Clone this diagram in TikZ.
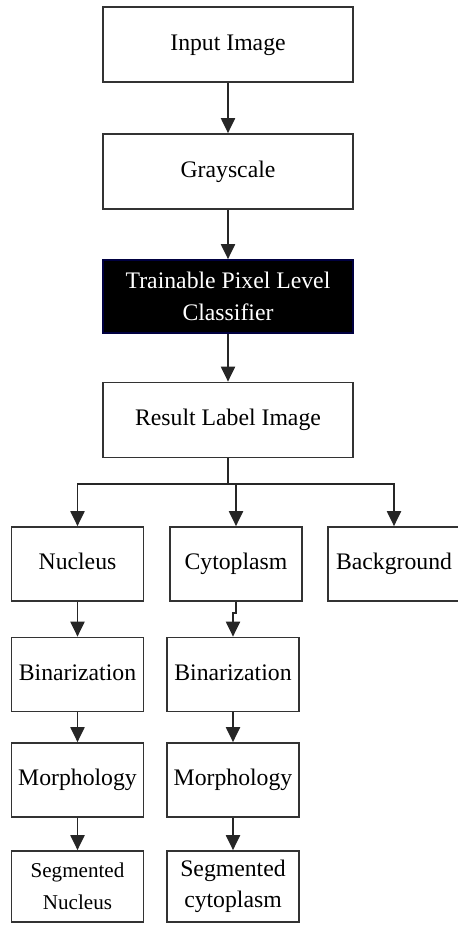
\documentclass[tikz,border=0pt]{standalone}
\usepackage{fontspec}
\setmainfont{Liberation Serif}
\usetikzlibrary{arrows.meta}

\begin{document}
\begin{tikzpicture}[x=0.02cm, y=-0.02cm,
    box/.style={draw=black!80, line width=1pt, rectangle, align=center, inner sep=2pt, font=\fontsize{13.5}{18}\selectfont},
    wide/.style={box, minimum width=5cm, minimum height=1.5cm},
    narrow/.style={box, minimum width=2.64cm, minimum height=1.48cm},
    oneline/.style={text height=9.5pt, text depth=3pt},
    arr/.style={-{Triangle[length=8.5pt,width=8pt]}, line width=1pt, draw=black!85}]
    \useasboundingbox (0,0) rectangle (457,925);

    \node[wide, oneline] (input) at (228,44.5) {Input Image};
    \node[wide, oneline] (gray) at (228,171.5) {Grayscale};
    \node[wide, fill=black, text=white, draw=blue!25!black, minimum height=1.46cm] (classifier) at (228,296.5) {Trainable Pixel Level\\Classifier};
    \node[wide, oneline] (result) at (228,420) {Result Label Image};

    \node[narrow, oneline] (nucleus) at (77.5,564) {Nucleus};
    \node[narrow, oneline] (cytoplasm) at (236,564) {Cytoplasm};
    \node[narrow, oneline] (background) at (394,564) {Background};

    \node[narrow, oneline] (nucbin) at (77.5,674.5) {Binarization};
    \node[narrow, oneline] (cytbin) at (233,674.5) {Binarization};
    \node[narrow, oneline] (nucmorph) at (77.5,780) {Morphology};
    \node[narrow, oneline] (cytmorph) at (233,780) {Morphology};
    \node[narrow, minimum height=1.42cm, font=\fontsize{12}{18}\selectfont] (nucseg) at (77.5,886.5) {Segmented\\Nucleus};
    \node[narrow, minimum height=1.42cm] (cytseg) at (233,886.5) {Segmented\\cytoplasm};

    \draw[arr] (input) -- (gray);
    \draw[arr] (gray) -- (classifier);
    \draw[arr] (classifier) -- (result);

    \coordinate (split) at (228,484);
    \draw[line width=1.4pt, draw=black!85] (result.south) -- (split);
    \draw[arr] (split) -| (nucleus.north);
    \draw[arr] (split) -| (cytoplasm.north);
    \draw[arr] (split) -| (background.north);

    \draw[arr] (nucleus) -- (nucbin);
    \draw[arr] (nucbin) -- (nucmorph);
    \draw[arr] (nucmorph) -- (nucseg);

    \draw[arr] (cytoplasm.south) -- ++(0,11) -| (cytbin.north);
    \draw[arr] (cytbin) -- (cytmorph);
    \draw[arr] (cytmorph) -- (cytseg);
\end{tikzpicture}
\end{document}
